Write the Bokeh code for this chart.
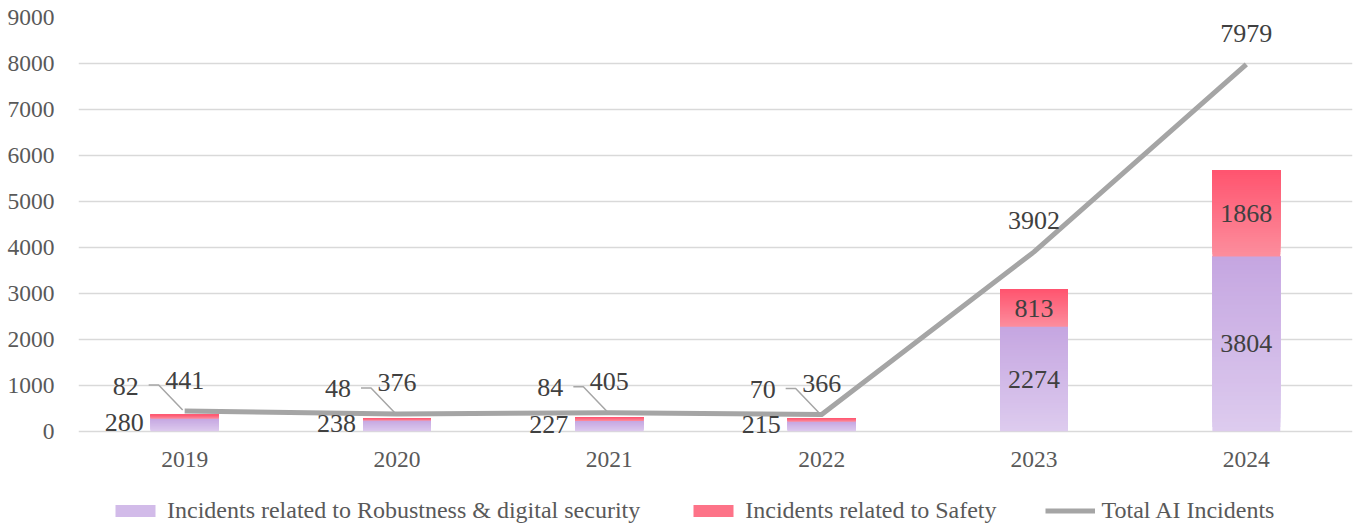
from bokeh.plotting import figure
from bokeh.layouts import column
from bokeh.models import Range1d, FixedTicker, SingleIntervalTicker, Legend, LegendItem
from bokeh.core.properties import value
from bokeh.embed import file_html
from bokeh.resources import INLINE

# ---- data ----
years = ["2019", "2020", "2021", "2022", "2023", "2024"]
robustness = [280, 238, 227, 215, 2274, 3804]
safety = [82, 48, 84, 70, 813, 1868]
total_incidents = [441, 376, 405, 366, 3902, 7979]

FONT = "Liberation Serif"
W = 1361
ML, MR, MT, MB = 78, 9, 17, 47
YMIN, YMAX = -70, 9000
PX_PER_K = 46.0
frame_h = int(round((YMAX - YMIN) / 1000 * PX_PER_K))
H1 = MT + frame_h + MB
frame_w = W - ML - MR
x_per_px = 6.0 / frame_w
y_per_px = (YMAX - YMIN) / frame_h

p = figure(width=W, height=H1, output_backend="svg", toolbar_location=None,
           x_range=Range1d(-0.5, 5.5), y_range=Range1d(YMIN, YMAX),
           min_border_left=ML, min_border_right=MR, min_border_top=MT, min_border_bottom=MB)
p.outline_line_color = None
p.background_fill_color = "white"
p.border_fill_color = "white"

# axes
p.xaxis.ticker = FixedTicker(ticks=list(range(len(years))))
p.xaxis.major_label_overrides = {i: y for i, y in enumerate(years)}
p.yaxis.ticker = SingleIntervalTicker(interval=1000)
for ax in (p.xaxis, p.yaxis):
    ax.axis_line_color = None
    ax.major_tick_line_color = None
    ax.minor_tick_line_color = None
    ax.major_tick_out = 0
    ax.major_tick_in = 0
    ax.major_label_text_font = FONT
    ax.major_label_text_font_size = "23.5px"
    ax.major_label_text_color = "#595959"
p.xaxis.major_label_standoff = 17
p.yaxis.major_label_standoff = 20
p.xgrid.grid_line_color = None
p.ygrid.grid_line_color = "#D9D9D9"
p.ygrid.grid_line_width = 1.5
p.ygrid.ticker = SingleIntervalTicker(interval=1000)

# ---- gradient bars (stacked slices) ----
def lerp(c1, c2, t):
    return "#%02x%02x%02x" % tuple(int(round(a + (b - a) * t)) for a, b in zip(c1, c2))

PURPLE_BOT, PURPLE_TOP = (221, 203, 238), (197, 166, 225)
PINK_BOT, PINK_TOP = (252, 142, 157), (255, 84, 111)
BAR_W = 0.32
N = 40
L, R, B, T, C = [], [], [], [], []
for i in range(len(years)):
    segs = [(0, robustness[i], PURPLE_BOT, PURPLE_TOP),
            (robustness[i], robustness[i] + safety[i], PINK_BOT, PINK_TOP)]
    for lo, hi, cb, ct in segs:
        for k in range(N):
            L.append(i - BAR_W / 2); R.append(i + BAR_W / 2)
            B.append(lo + (hi - lo) * k / N); T.append(hi)
            C.append(lerp(cb, ct, (k + 0.5) / N))
p.quad(left=L, right=R, bottom=B, top=T, fill_color=C, line_color=None)

# total line
xs = list(range(len(years)))
p.line(xs, total_incidents, line_color="#A5A5A5", line_width=5, line_join="round")

# ---- labels ----
LBL = dict(text_font=value(FONT), text_font_size="26px", text_color="#404040",
           text_baseline="middle")
small = [i for i in xs if robustness[i] + safety[i] < 1000]
big = [i for i in xs if i not in small]

p.text(x=xs, y=total_incidents, text=[str(v) for v in total_incidents],
       text_align="center", y_offset=-31, **LBL)
p.text(x=small, y=[robustness[i] / 2 for i in small], text=[str(robustness[i]) for i in small],
       text_align="right", x_offset=-41, y_offset=-2, **LBL)
p.text(x=big, y=[robustness[i] / 2 for i in big], text=[str(robustness[i]) for i in big],
       text_align="center", **LBL)
p.text(x=big, y=[robustness[i] + safety[i] / 2 for i in big], text=[str(safety[i]) for i in big],
       text_align="center", **LBL)
p.text(x=small, y=[total_incidents[i] for i in small], text=[str(safety[i]) for i in small],
       text_align="right", x_offset=-46, y_offset=-25, **LBL)
lx, ly = [], []
for i in small:
    yt = total_incidents[i] + 26 * y_per_px
    lx.append([i - 36 * x_per_px, i - 26 * x_per_px, i - 2 * x_per_px])
    ly.append([yt, yt, total_incidents[i] + 1 * y_per_px])
p.multi_line(lx, ly, line_color="#A6A6A6", line_width=1.5)

# ---- legend strip ----
H2 = 44
p2 = figure(width=W, height=H2, output_backend="svg", toolbar_location=None,
            x_axis_type=None, y_axis_type=None, x_range=Range1d(0, 1), y_range=Range1d(0, 1),
            min_border_left=0, min_border_right=0, min_border_top=0, min_border_bottom=0)
p2.outline_line_color = None
p2.xgrid.grid_line_color = None
p2.ygrid.grid_line_color = None
# legend-only renderers kept outside the visible range
r_purple = p2.quad(left=[5], right=[6], bottom=[5], top=[6], fill_color="#D2BBE9", line_color=None)
r_pink = p2.quad(left=[5], right=[6], bottom=[5], top=[6], fill_color="#FD7388", line_color=None)
r_line = p2.line([5, 6], [5, 5], line_color="#A5A5A5", line_width=5)
legend = Legend(items=[
    LegendItem(label="Incidents related to Robustness & digital security", renderers=[r_purple]),
    LegendItem(label="Incidents related to Safety", renderers=[r_pink]),
    LegendItem(label="Total AI Incidents", renderers=[r_line]),
], orientation="horizontal", location=(32, 1), padding=0, margin=0,
    glyph_width=50, glyph_height=15, label_standoff=7, spacing=48,
    label_text_font=FONT, label_text_font_size="24px", label_text_color="#595959",
    background_fill_alpha=0, border_line_alpha=0)
p2.add_layout(legend, "center")

open("out.html", "w").write(file_html(column(p, p2, spacing=0), INLINE))
